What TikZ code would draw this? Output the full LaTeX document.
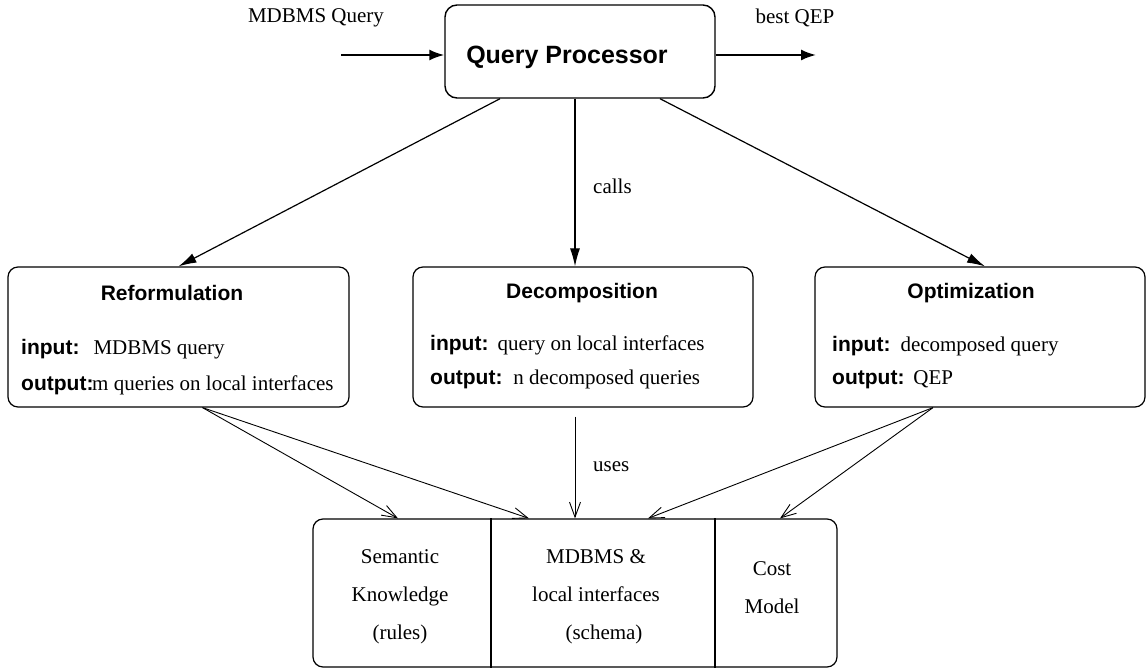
\documentclass[tikz,border=0pt]{standalone}
\usepackage{fontspec}
\setmainfont{Liberation Serif}
\setsansfont{Liberation Sans}
\usetikzlibrary{arrows.meta}

\newcommand{\fieldname}[1]{{\sffamily\bfseries #1}}

\begin{document}
\begin{tikzpicture}[x=1pt,y=-1pt,
    txt/.style={font=\fontsize{21}{38}\selectfont},
    head/.style={font=\sffamily\bfseries\fontsize{21}{25}\selectfont},
    field/.style={anchor=base west,inner sep=0pt,font=\fontsize{21}{25}\selectfont},
    module/.style={draw,line width=1.2pt,rounded corners=10pt,minimum height=140pt,inner sep=0pt},
    calls/.style={-{Latex[length=18pt,width=10pt]},line width=1.2pt},
    uses/.style={-{Straight Barb[length=15pt,width=11pt]},line width=0.9pt},
    flow/.style={-{Latex[length=15pt,width=11pt]},line width=2pt}]
    \useasboundingbox (0,0) rectangle (1146,668);

    % query processor
    \node[draw,line width=1.4pt,rounded corners=12pt,minimum width=270pt,minimum height=93pt] (qp) at (580,51.5) {};
    \node[font=\sffamily\bfseries\fontsize{25}{30}\selectfont] (qptext) at (567,57) {Query Processor};
    \coordinate (in) at (341,55);
    \coordinate (out) at (816,55);
    \node[txt] (inlabel) at (316,18) {MDBMS Query};
    \node[txt] (outlabel) at (795,18) {best QEP};
    \draw[flow] (in) -- (in -| qp.west);
    \draw[flow] (qp.east |- out) -- (out);

    % the three modules
    \node[module,minimum width=341pt] (ref) at (178.5,337) {};
    \node[module,minimum width=340pt] (dec) at (583,337) {};
    \node[module,minimum width=330pt] (opt) at (980,337) {};
    \node[head] (reftitle) at (172,293) {Reformulation};
    \node[head] (dectitle) at (582,293) {Decomposition};
    \node[head] (opttitle) at (971,293) {Optimization};
    \node[field] (refin) at (21,355) {\fieldname{input:}\hspace{14pt}MDBMS query};
    \node[field] (refout) at (21,390) {\makebox[71pt][l]{\fieldname{output:}}m queries on local interfaces};
    \node[field] (decin) at (430,350) {\fieldname{input:}\hspace{9pt}query on local interfaces};
    \node[field] (decout) at (430,384) {\fieldname{output:}\hspace{11pt}n decomposed queries};
    \node[field] (optin) at (832,352) {\fieldname{input:}\hspace{10pt}decomposed query};
    \node[field] (optout) at (832,384) {\fieldname{output:}\hspace{9pt}QEP};

    % knowledge base
    \node[draw,line width=1.2pt,rounded corners=10pt,minimum width=524pt,minimum height=148pt] (kb) at (575,593) {};
    \draw[line width=1.2pt] ([xshift=-84pt]kb.north) -- ([xshift=-84pt]kb.south);
    \draw[line width=1.2pt] ([xshift=140pt]kb.north) -- ([xshift=140pt]kb.south);
    \node[txt,align=center] (sem) at (400,597) {Semantic\\Knowledge\\(rules)};
    \node[txt,align=center] (schema) at (596,597) {MDBMS \&\\local interfaces\\\hspace*{16pt}(schema)};
    \node[txt,align=center] (cost) at (772,588) {Cost\\Model};

    % calls
    \draw[calls] ([xshift=-80pt]qp.south) -- (ref.north);
    \draw[calls] ([xshift=-5pt]qp.south) -- ([xshift=-8pt]dec.north);
    \draw[calls] ([xshift=80pt]qp.south) -- ([xshift=5pt]opt.north);
    \node[txt,anchor=west,inner sep=0pt] (callslabel) at (593,186) {calls};

    % uses
    \draw[uses] ([xshift=24pt]ref.south) -- ([xshift=-177pt]kb.north);
    \draw[uses] ([xshift=24pt]ref.south) -- ([xshift=-46pt]kb.north);
    \draw[uses] ([xshift=-8pt,yshift=-9pt]dec.south) -- (kb.north);
    \draw[uses] ([xshift=-47pt]opt.south) -- ([xshift=73pt]kb.north);
    \draw[uses] ([xshift=-47pt]opt.south) -- ([xshift=205pt]kb.north);
    \node[txt,anchor=west,inner sep=0pt] (useslabel) at (593,467) {uses};
\end{tikzpicture}
\end{document}
